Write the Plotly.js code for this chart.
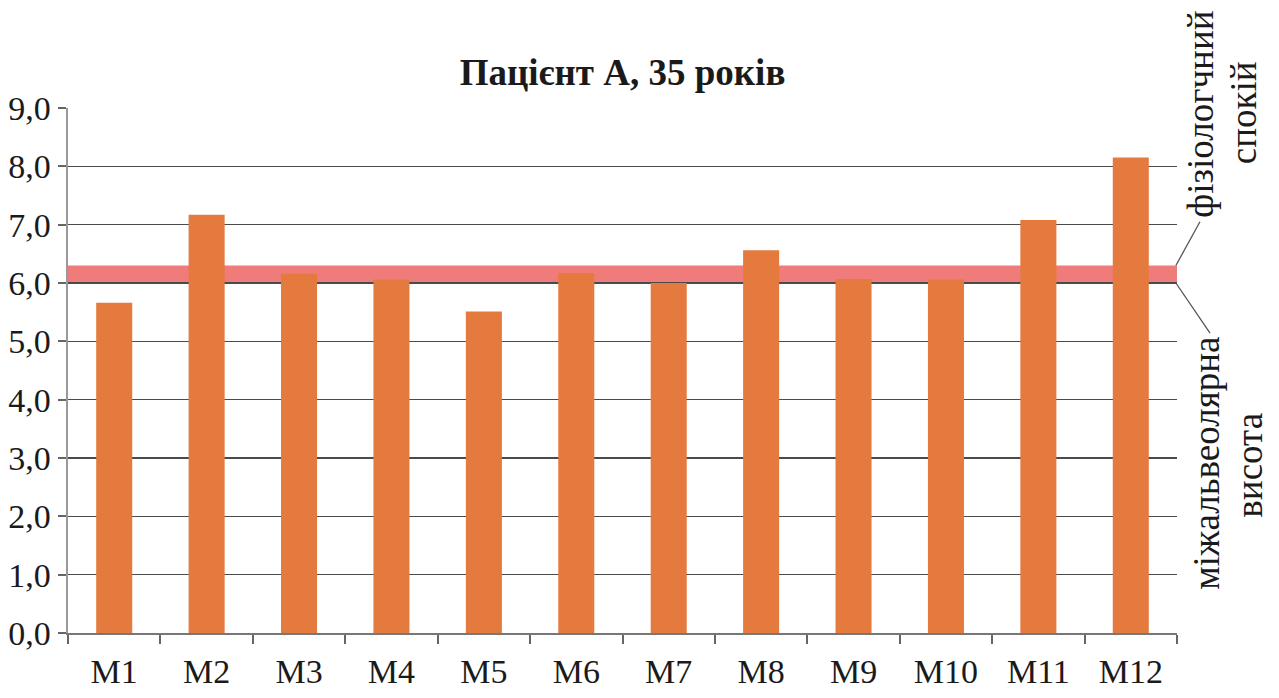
<!DOCTYPE html>
<html>
<head>
<meta charset="utf-8">
<script src="https://cdn.plot.ly/plotly-3.0.1.min.js"></script>
<style>
html,body{margin:0;padding:0;background:#fff;}
#chart{width:1279px;height:698px;}
</style>
</head>
<body>
<div id="chart"></div>
<script>
const categories = ["M1","M2","M3","M4","M5","M6","M7","M8","M9","M10","M11","M12"];
const values = [5.66, 7.17, 6.16, 6.06, 5.51, 6.17, 6.0, 6.56, 6.07, 6.06, 7.08, 8.15];
const bandLow = 6.0;
const bandHigh = 6.3;
const yTicks = [0,1,2,3,4,5,6,7,8,9];
const titleText = "Пацієнт А, 35 років";
const upperLabel = ["фізіологчний", "спокій"];
const lowerLabel = ["міжальвеолярна", "висота"];

const serif = "Liberation Serif, Times New Roman, serif";

const trace = {
  type: "bar",
  x: categories,
  y: values,
  marker: {color: "#E57A3E", line: {width: 0}},
  hoverinfo: "x+y"
};

const layout = {
  width: 1279, height: 698,
  margin: {l: 68, r: 102, t: 108, b: 65, pad: 0},
  paper_bgcolor: "#ffffff",
  plot_bgcolor: "#ffffff",
  separators: ", ",
  showlegend: false,
  bargap: 0.61,
  title: {
    text: "<b>" + titleText + "</b>",
    font: {family: serif, size: 37, color: "#1a1a1a"},
    x: 0.5, xref: "paper", xanchor: "center",
    y: 1 - 72/698, yref: "container", yanchor: "middle"
  },
  xaxis: {
    type: "category",
    showgrid: false,
    showline: true, linecolor: "#777", linewidth: 2,
    ticks: "outside", tickson: "boundaries", ticklen: 9, tickcolor: "#666", tickwidth: 2,
    tickfont: {family: serif, size: 34, color: "#1a1a1a"},
    ticklabelstandoff: 7,
    zeroline: false
  },
  yaxis: {
    range: [0, 9],
    tickvals: yTicks,
    tickformat: ".1f",
    showgrid: true, gridcolor: "#4a4a4a", gridwidth: 1.5,
    showline: true, linecolor: "#999", linewidth: 2.5,
    ticks: "outside", ticklen: 8, tickcolor: "#666", tickwidth: 2,
    tickfont: {family: serif, size: 34, color: "#1a1a1a"},
    zeroline: false
  },
  shapes: [
    {type: "rect", xref: "paper", yref: "y", x0: 0, x1: 1, y0: bandLow, y1: bandHigh,
     fillcolor: "#EF7B7B", line: {width: 0}, layer: "below"},
    {type: "line", xref: "paper", yref: "y", x0: 0.999, y0: bandHigh, x1: 1.0207, y1: 7.05,
     line: {color: "#555", width: 1.3}},
    {type: "line", xref: "paper", yref: "y", x0: 0.999, y0: bandLow, x1: 1.0298, y1: 5.14,
     line: {color: "#555", width: 1.3}}
  ],
  annotations: [
    {text: upperLabel[0], xref: "paper", yref: "paper", x: 1.0215, y: 0.9886, textangle: -90,
     showarrow: false, xanchor: "center", yanchor: "middle", font: {family: serif, size: 37, color: "#1a1a1a"}},
    {text: upperLabel[1], xref: "paper", yref: "paper", x: 1.0595, y: 0.992, textangle: -90,
     showarrow: false, xanchor: "center", yanchor: "middle", font: {family: serif, size: 37, color: "#1a1a1a"}},
    {text: lowerLabel[0], xref: "paper", yref: "paper", x: 1.027, y: 0.324, textangle: -90,
     showarrow: false, xanchor: "center", yanchor: "middle", font: {family: serif, size: 37, color: "#1a1a1a"}},
    {text: lowerLabel[1], xref: "paper", yref: "paper", x: 1.0655, y: 0.32, textangle: -90,
     showarrow: false, xanchor: "center", yanchor: "middle", font: {family: serif, size: 37, color: "#1a1a1a"}}
  ]
};

Plotly.newPlot("chart", [trace], layout, {displayModeBar: false, staticPlot: true});
</script>
</body>
</html>
